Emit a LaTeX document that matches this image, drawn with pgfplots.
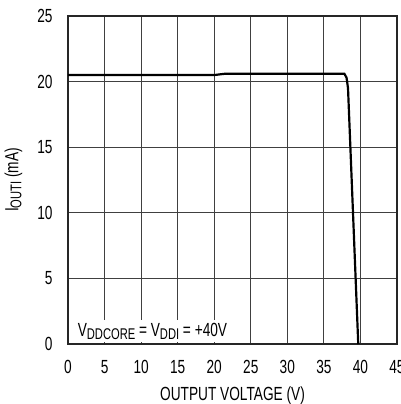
\documentclass[border=0pt]{standalone}
\usepackage{pgfplots}
\pgfplotsset{compat=1.18}
\usepackage{fontspec}
\setmainfont{Liberation Sans}[FakeStretch=0.72]
\newcommand{\sub}[1]{\raisebox{-0.3ex}{\fontsize{15.5bp}{15.5bp}\selectfont #1}}
\begin{document}
\begin{tikzpicture}
\clip (-68bp,-60bp) rectangle (333bp,344bp);
\useasboundingbox (-68bp,-60bp) rectangle (333bp,344bp);
\begin{axis}[
  scale only axis,
  width=329bp, height=328bp,
  xmin=0, xmax=45, ymin=0, ymax=25,
  xtick={0,5,...,45}, ytick={0,5,...,25},
  grid=major,
  major grid style={black!75, line width=0.8pt},
  axis line style={line width=2.2pt, black!85},
  major tick length=0pt,
  /pgf/number format/assume math mode=true,
  tick label style={font=\fontsize{19bp}{19bp}\selectfont},
  label style={font=\fontsize{19bp}{19bp}\selectfont},
  xlabel={OUTPUT VOLTAGE (V)},
  ylabel={I\sub{OUTI} (mA)},
  xticklabel style={yshift=-13bp},
  yticklabel style={xshift=-12bp},
  xlabel style={yshift=-6bp},
  ylabel style={yshift=8bp},
]
\addplot[black, line width=2.2pt] coordinates {
(0,20.5) (20,20.5) (21.5,20.6) (37.8,20.6) (38.1,20.3) (38.3,19.5) (39.7,0)
};
\node[anchor=south west, fill=white, inner sep=3bp, font=\fontsize{19bp}{19bp}\selectfont] at (axis cs:0.9,0.1) {V\sub{DDCORE} = V\sub{DDI} = +40V};
\end{axis}
\end{tikzpicture}
\end{document}
